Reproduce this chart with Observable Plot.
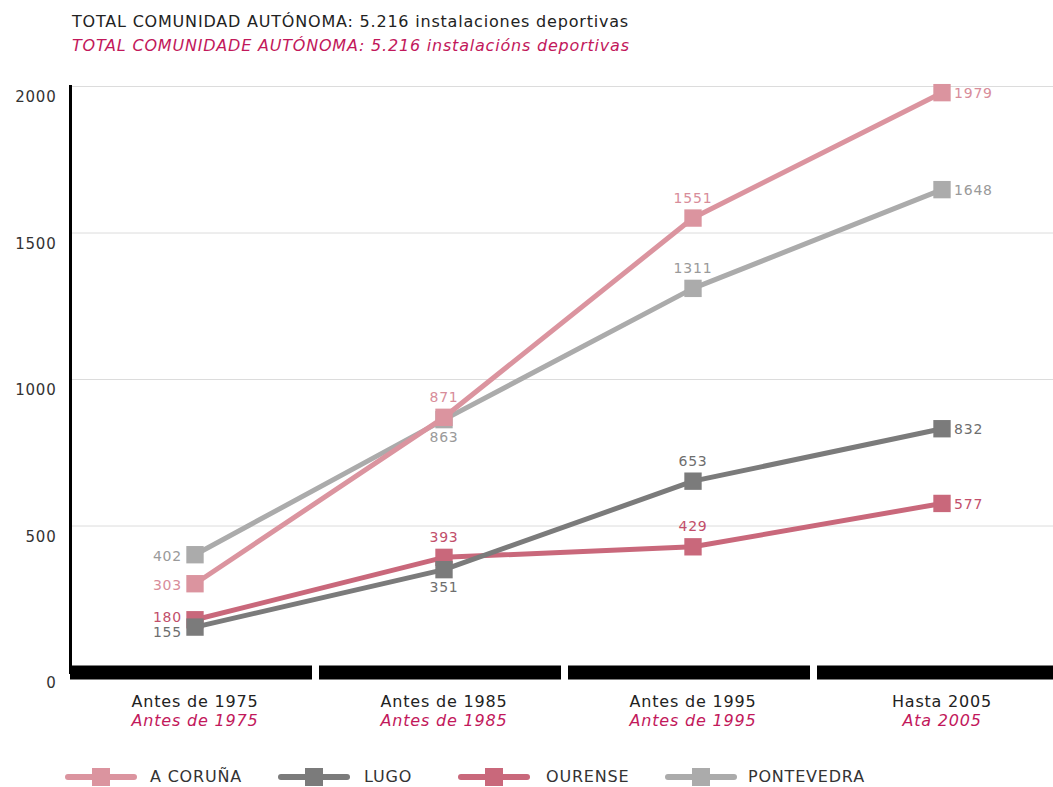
<!DOCTYPE html>
<html>
<head>
<meta charset="utf-8">
<script src="https://cdn.jsdelivr.net/npm/d3@7"></script>
<script src="https://cdn.jsdelivr.net/npm/@observablehq/plot@0.6"></script>
<style>
  body { margin: 0; background: #fff; font-family: "DejaVu Sans", Verdana, sans-serif; }
  #wrap { position: relative; width: 1053px; height: 787px; overflow: hidden; background: #fff; }
  #title { position: absolute; left: 72px; top: 10px; font-size: 16px; letter-spacing: 0.8px; line-height: 24px; color: #222; white-space: nowrap; }
  #title .gl { color: #c2185b; font-style: italic; }
  #chart { position: absolute; left: 0; top: 60px; }
  #legend { position: absolute; left: 0; top: 762px; width: 1053px; height: 30px; }
  .sw { position: absolute; top: 0; }
  .lab { position: absolute; top: 0; height: 30px; line-height: 30px; font-size: 16px; letter-spacing: 0.8px; color: #333; white-space: nowrap; }
</style>
</head>
<body>
<div id="wrap">
  <div id="title">
    <div>TOTAL COMUNIDAD AUTÓNOMA: 5.216 instalaciones deportivas</div>
    <div class="gl">TOTAL COMUNIDADE AUTÓNOMA: 5.216 instalacións deportivas</div>
  </div>
  <div id="chart"></div>
  <div id="legend"></div>
</div>
<script>
// ---- data ----
const periods = ["Antes de 1975", "Antes de 1985", "Antes de 1995", "Hasta 2005"];
const periodsGl = ["Antes de 1975", "Antes de 1985", "Antes de 1995", "Ata 2005"];
const seriesNames = ["A CORUÑA", "LUGO", "OURENSE", "PONTEVEDRA"];
const aCoruna = [303, 871, 1551, 1979];
const lugo = [155, 351, 653, 832];
const ourense = [180, 393, 429, 577];
const pontevedra = [402, 863, 1311, 1648];
const yTicks = [0, 500, 1000, 1500, 2000];

// ---- styles ----
const lineColor = {"A CORUÑA": "#db949f", "LUGO": "#7b7b7b", "OURENSE": "#c9687b", "PONTEVEDRA": "#ababab"};
const labelColor = {"A CORUÑA": "#d88d9a", "LUGO": "#6e6e6e", "OURENSE": "#c24f6b", "PONTEVEDRA": "#9a9a9a"};
const drawOrder = ["OURENSE", "LUGO", "PONTEVEDRA", "A CORUÑA"];

const valuesBySeries = {"A CORUÑA": aCoruna, "LUGO": lugo, "OURENSE": ourense, "PONTEVEDRA": pontevedra};
const rows = [];
for (const s of seriesNames) {
  valuesBySeries[s].forEach((v, i) => rows.push({series: s, period: periods[i], i, value: v}));
}

function placement(r) {
  if (r.i === 0) return r.series === "OURENSE" ? "leftUp" : r.series === "LUGO" ? "leftDown" : "left";
  if (r.i === 3) return "right";
  if (r.i === 1 && (r.series === "LUGO" || r.series === "PONTEVEDRA")) return "below";
  return "above";
}
const placements = {
  left: {dx: -13, dy: 2, textAnchor: "end"},
  leftUp: {dx: -13, dy: -2, textAnchor: "end"},
  leftDown: {dx: -13, dy: 5, textAnchor: "end"},
  right: {dx: 12, dy: 1, textAnchor: "start"},
  above: {dx: 0, dy: -20, textAnchor: "middle"},
  below: {dx: 0, dy: 18, textAnchor: "middle"}
};

const marks = [
  Plot.ruleY(yTicks.filter(d => d > 0), {stroke: "#dcdcdc", strokeWidth: 1}),
  Plot.axisY(yTicks, {tickSize: 0, tickPadding: 14, dy: 11, fontSize: 15, fill: "#333", label: null, tickFormat: d => String(d)}),
  Plot.frame({anchor: "left", stroke: "#000", strokeWidth: 3}),
  Plot.tickY(periods, {x: d => d, y: 0, stroke: "#000", strokeWidth: 14, insetRight: 7}),
  Plot.text(periods, {x: d => d, frameAnchor: "bottom", dy: 34, text: d => d, fontSize: 16, fill: "#222"}),
  Plot.text(periods, {x: d => d, frameAnchor: "bottom", dy: 53, text: (d, i) => periodsGl[i], fontSize: 16, fill: "#c2185b", fontStyle: "italic"})
];
for (const s of drawOrder) {
  const data = rows.filter(r => r.series === s);
  marks.push(Plot.line(data, {x: "period", y: "value", stroke: lineColor[s], strokeWidth: 5}));
  marks.push(Plot.dot(data, {x: "period", y: "value", symbol: "square", r: 9.8, fill: lineColor[s], stroke: "none"}));
}
for (const [key, p] of Object.entries(placements)) {
  marks.push(Plot.text(rows.filter(r => placement(r) === key), {
    x: "period", y: "value", text: d => String(d.value), fill: d => labelColor[d.series],
    fontSize: 14, dx: p.dx, dy: p.dy, textAnchor: p.textAnchor
  }));
}

const chart = Plot.plot({
  width: 1053,
  height: 655,
  marginTop: 26,
  marginBottom: 43,
  marginLeft: 70,
  marginRight: 0,
  style: {fontFamily: "'DejaVu Sans', Verdana, sans-serif", background: "#fff", overflow: "visible", letterSpacing: "0.8px"},
  x: {type: "band", domain: periods, range: [70, 1066], padding: 0, axis: null},
  y: {domain: [0, 2000], axis: null},
  marks
});
document.getElementById("chart").appendChild(chart);

// ---- legend ----
const swatchX = [65, 278, 458, 665];
const labelX = [150, 364, 546, 748];
const legend = document.getElementById("legend");
seriesNames.forEach((s, i) => {
  const sw = document.createElement("div");
  sw.className = "sw";
  sw.style.left = swatchX[i] + "px";
  sw.innerHTML = `<svg width="72" height="30"><line x1="3" x2="69" y1="15" y2="15" stroke="${lineColor[s]}" stroke-width="6" stroke-linecap="round"/><rect x="27" y="6" width="18" height="18" fill="${lineColor[s]}"/></svg>`;
  legend.appendChild(sw);
  const lab = document.createElement("div");
  lab.className = "lab";
  lab.style.left = labelX[i] + "px";
  lab.textContent = s;
  legend.appendChild(lab);
});
</script>
</body>
</html>
